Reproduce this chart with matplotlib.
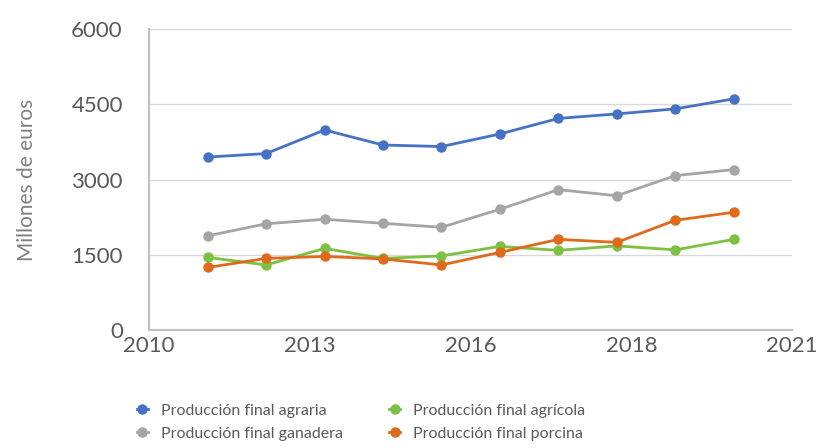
import matplotlib.pyplot as plt
import numpy as np

years = [2011, 2012, 2013, 2014, 2015, 2016, 2017, 2018, 2019, 2020]
agraria = [3450, 3520, 3990, 3690, 3660, 3910, 4220, 4310, 4410, 4610]
ganadera = [1880, 2120, 2210, 2130, 2050, 2410, 2800, 2680, 3080, 3200]
agricola = [1450, 1300, 1630, 1430, 1480, 1670, 1590, 1680, 1600, 1810]
porcina = [1250, 1430, 1470, 1420, 1300, 1550, 1810, 1750, 2190, 2350]

x_tick_labels = ["2010", "2013", "2016", "2018", "2021"]
y_ticks = [0, 1500, 3000, 4500, 6000]

plt.rcParams["font.family"] = ["Lato", "DejaVu Sans"]

fig = plt.figure(figsize=(8.2, 4.48), dpi=100)
ax = fig.add_axes([0.182, 0.263, 0.784, 0.672])

series = [
    ("Producción final agraria", agraria, "#4472C4"),
    ("Producción final ganadera", ganadera, "#A5A5A5"),
    ("Producción final agrícola", agricola, "#7CC142"),
    ("Producción final porcina", porcina, "#E06A1B"),
]
handles = []
for label, vals, color in series:
    h, = ax.plot(years, vals, color=color, lw=2.0, marker="o", ms=6.5,
                 label=label, zorder=3)
    handles.append(h)

ax.set_xlim(2010, 2021)
ax.set_ylim(0, 6000)
ax.set_xticks(np.linspace(2010, 2021, len(x_tick_labels)))
ax.set_xticklabels(x_tick_labels)
ax.set_yticks(y_ticks)
ax.set_yticklabels([str(v) for v in y_ticks])
ax.tick_params(length=0, labelsize=16, labelcolor="#595959")
ax.tick_params(axis="y", pad=19)
ax.tick_params(axis="x", pad=4)

ax.grid(axis="y", color="#D9D9D9", lw=1.0, zorder=0)
for side in ["top", "right"]:
    ax.spines[side].set_visible(False)
for side in ["left", "bottom"]:
    ax.spines[side].set_color("#BFBFBF")
    ax.spines[side].set_linewidth(1.5)

ax.set_ylabel("Millones de euros", fontsize=15, color="#808080", labelpad=25)

fig.legend(handles=handles, loc="lower left", bbox_to_anchor=(0.158, 0.0),
           ncol=2, frameon=False, fontsize=11.5, labelcolor="#5A5A5A",
           handlelength=0.7, handletextpad=0.8, columnspacing=2.9,
           labelspacing=0.55, borderaxespad=0.05)

fig.savefig("out.png", dpi=100)
